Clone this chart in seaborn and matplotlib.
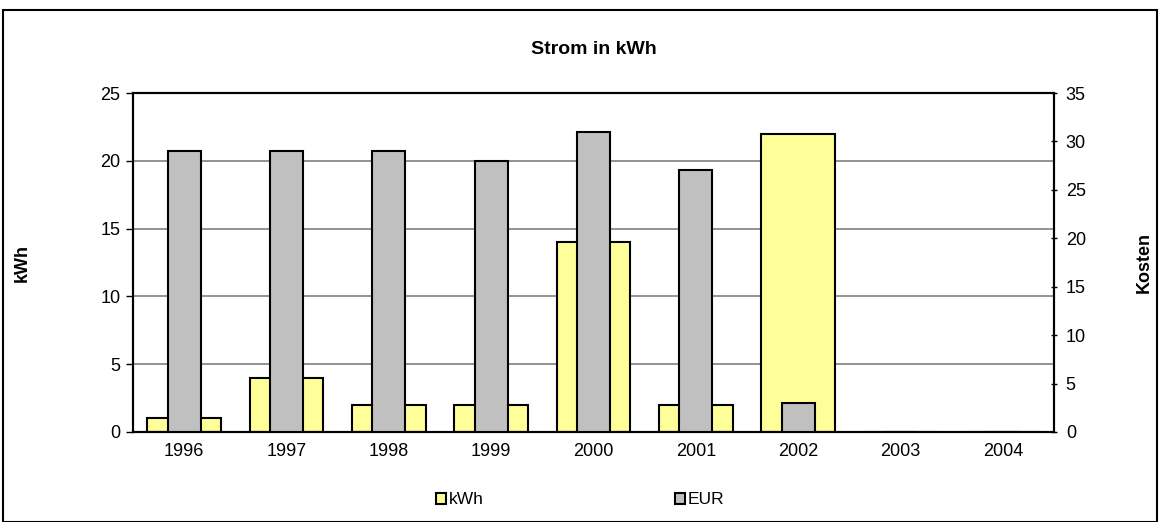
import pandas as pd
import matplotlib.pyplot as plt
import seaborn as sns
from matplotlib.patches import Rectangle, Patch
from matplotlib.ticker import FixedLocator

# data
years = ["1996", "1997", "1998", "1999", "2000", "2001", "2002", "2003", "2004"]
kwh = [1, 4, 2, 2, 14, 2, 22, 0, 0]
eur = [29, 29, 29, 28, 31, 27, 3, 0, 0]

df = pd.DataFrame({"Jahr": years, "kWh": kwh, "EUR": eur})

sns.set_theme(style="white")
plt.rcParams["font.family"] = ["Liberation Sans", "DejaVu Sans"]
plt.rcParams.update({"text.color": "black", "axes.labelcolor": "black",
                     "xtick.color": "black", "ytick.color": "black"})

fig = plt.figure(figsize=(11.6, 5.22), dpi=100)
ax = fig.add_axes([133 / 1160, 1 - 432 / 522, (1054 - 133) / 1160, (432 - 93) / 522])

# kWh bars (left axis), wide yellow
sns.barplot(data=df, x="Jahr", y="kWh", ax=ax, color="#FFFF99", width=0.72,
            edgecolor="black", linewidth=1.5, saturation=1, zorder=2)

ax.set_ylim(0, 25)
ax.set_yticks([0, 5, 10, 15, 20, 25])
ax.set_xlim(-0.5, 8.5)
ax.yaxis.grid(True, color="#808080", linewidth=1.2, zorder=0)
ax.set_axisbelow(True)
ax.set_xlabel("")
ax.set_ylabel("kWh", fontsize=13, fontweight="bold", labelpad=50)

# EUR bars (right axis), narrow gray
ax2 = ax.twinx()
sns.barplot(data=df, x="Jahr", y="EUR", ax=ax2, color="#C0C0C0", width=0.32,
            edgecolor="black", linewidth=1.5, saturation=1, zorder=3)
ax2.set_ylim(0, 35)
ax2.set_yticks([0, 5, 10, 15, 20, 25, 30, 35])
ax2.set_xlim(-0.5, 8.5)
ax2.set_ylabel("Kosten", fontsize=13, fontweight="bold", labelpad=36)
ax2.set_xlabel("")

for a in (ax, ax2):
    for s in a.spines.values():
        s.set_visible(True)
        s.set_color("black")
        s.set_linewidth(1.5)

ax.tick_params(axis="y", labelsize=13, length=5, width=1, direction="out", pad=4)
ax2.tick_params(axis="y", labelsize=13, length=5, width=1, direction="inout", pad=6)

# x ticks between categories
ax.tick_params(axis="x", which="major", length=0, labelsize=13, pad=8)
ax.xaxis.set_minor_locator(FixedLocator([i - 0.5 for i in range(len(years) + 1)]))
ax.tick_params(axis="x", which="minor", length=6, width=1, direction="out")

ax.set_title("Strom in kWh", fontsize=14, fontweight="bold", pad=28)

handles = [Patch(facecolor="#FFFF99", edgecolor="black", linewidth=1.5, label="kWh"),
           Patch(facecolor="#C0C0C0", edgecolor="black", linewidth=1.5, label="EUR")]
fig.legend(handles=handles, loc="center", bbox_to_anchor=(0.5, 1 - 500 / 522), ncol=2,
           frameon=False, fontsize=12.5, handlelength=0.6, handleheight=0.6,
           handletextpad=0.15, columnspacing=11)

# outer chart border
fig.patches.append(Rectangle((3 / 1160, 0), 1154 / 1160, 1 - 10 / 522, transform=fig.transFigure,
                             fill=False, edgecolor="black", linewidth=1.5))

fig.savefig("out.png", dpi=100)
